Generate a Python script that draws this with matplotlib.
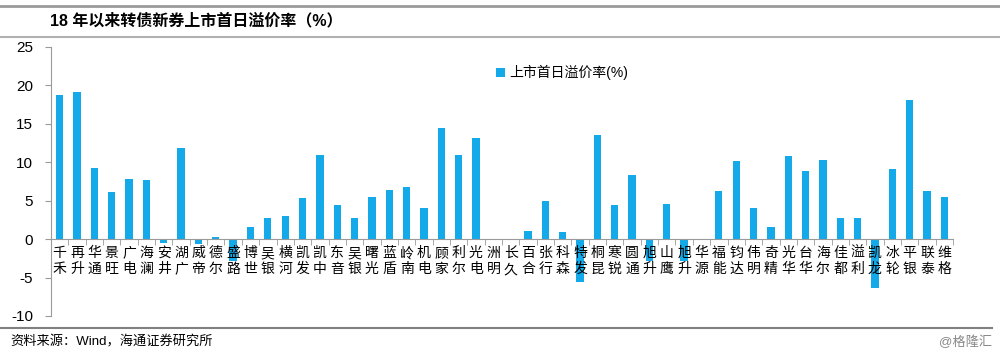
import matplotlib
matplotlib.use("Agg")
import matplotlib.pyplot as plt
import numpy as np
from matplotlib.lines import Line2D

plt.rcParams['font.family'] = ['Liberation Sans', 'Noto Sans CJK SC', 'DejaVu Sans']

# first-day premium of new convertible bonds listed since 2018 (%)
names = ["千禾", "再升", "华通", "景旺", "广电", "海澜", "安井", "湖广", "威帝", "德尔",
         "盛路", "博世", "吴银", "横河", "凯发", "凯中", "东音", "吴银", "曙光", "蓝盾",
         "岭南", "机电", "顾家", "利尔", "光电", "洲明", "长久", "百合", "张行", "科森",
         "特发", "桐昆", "寒锐", "圆通", "旭升", "山鹰", "旭升", "华源", "福能", "钧达",
         "伟明", "奇精", "光华", "台华", "海尔", "佳都", "溢利", "凯龙", "冰轮", "平银",
         "联泰", "维格"]
premium = [18.7, 19.1, 9.2, 6.1, 7.8, 7.7, -0.5, 11.9, -0.6, 0.3,
           -2.8, 1.6, 2.8, 3.0, 5.4, 10.9, 4.4, 2.8, 5.5, 6.4,
           6.8, 4.1, 14.4, 11.0, 13.1, 0.05, -0.1, 1.0, 4.9, 0.9,
           -5.6, 13.5, 4.5, 8.3, -2.9, 4.6, -2.9, 0.05, 6.2, 10.2,
           4.0, 1.6, 10.8, 8.9, 10.3, 2.8, 2.8, -6.4, 9.1, 18.1,
           6.2, 5.5]
yticks = [-10, -5, 0, 5, 10, 15, 20, 25]

blue = "#14A9E8"
grey = "#9a9a9a"

fig = plt.figure(figsize=(10, 3.56), dpi=100)
ax = fig.add_axes([0.051, 0.1124, 0.902, 0.7556])

x = np.arange(len(names))
# bars below the axis layer so the category labels stay on top, as in the source
ax.bar(x, premium, width=0.42, color=blue, label="上市首日溢价率(%)", zorder=1)

ax.set_xlim(-0.5, len(names) - 0.5)
ax.set_ylim(-10, 25)
ax.set_yticks(yticks)
ax.set_yticklabels([str(v) for v in yticks], fontsize=11)
ax.set_xticks(x)
ax.set_xticklabels(["\n".join(n) for n in names], fontsize=10.5,
                   family=['Noto Sans CJK SC'], linespacing=1.05)
ax.set_xticks(np.arange(-0.5, len(names)), minor=True)
ax.tick_params(axis='x', which='major', length=0, pad=5)
ax.tick_params(axis='x', which='minor', length=4, color=grey, direction='out')
ax.tick_params(axis='y', length=4, color=grey, pad=9)

for s in ['top', 'right']:
    ax.spines[s].set_visible(False)
ax.spines['bottom'].set_position(('data', 0))
ax.spines['bottom'].set_color(grey)
ax.spines['left'].set_color(grey)

ax.legend(loc='upper left', bbox_to_anchor=(0.48, 0.98), frameon=False,
          fontsize=10, handlelength=0.6, handleheight=0.6, handletextpad=0.3)

# report frame: lines, title, source
fig.add_artist(Line2D([0, 1], [1 - 6 / 356] * 2, color=grey, lw=2))
fig.add_artist(Line2D([0, 1], [1 - 37 / 356] * 2, color="#b0b0b0", lw=1.5))
fig.add_artist(Line2D([0, 0.992], [1 - 328 / 356] * 2, color="#808080", lw=1.5))
fig.text(0.05, 1 - 21 / 356, "18 年以来转债新券上市首日溢价率（%）", fontsize=11.5,
         fontweight='bold', va='center', ha='left')
fig.text(0.01, 1 - 342 / 356, "资料来源：Wind，海通证券研究所", fontsize=9.5,
         va='center', ha='left')
fig.text(0.992, 1 - 342 / 356, "@格隆汇", fontsize=9.5, color="#888888",
         va='center', ha='right')

fig.savefig("out.png", dpi=100)
